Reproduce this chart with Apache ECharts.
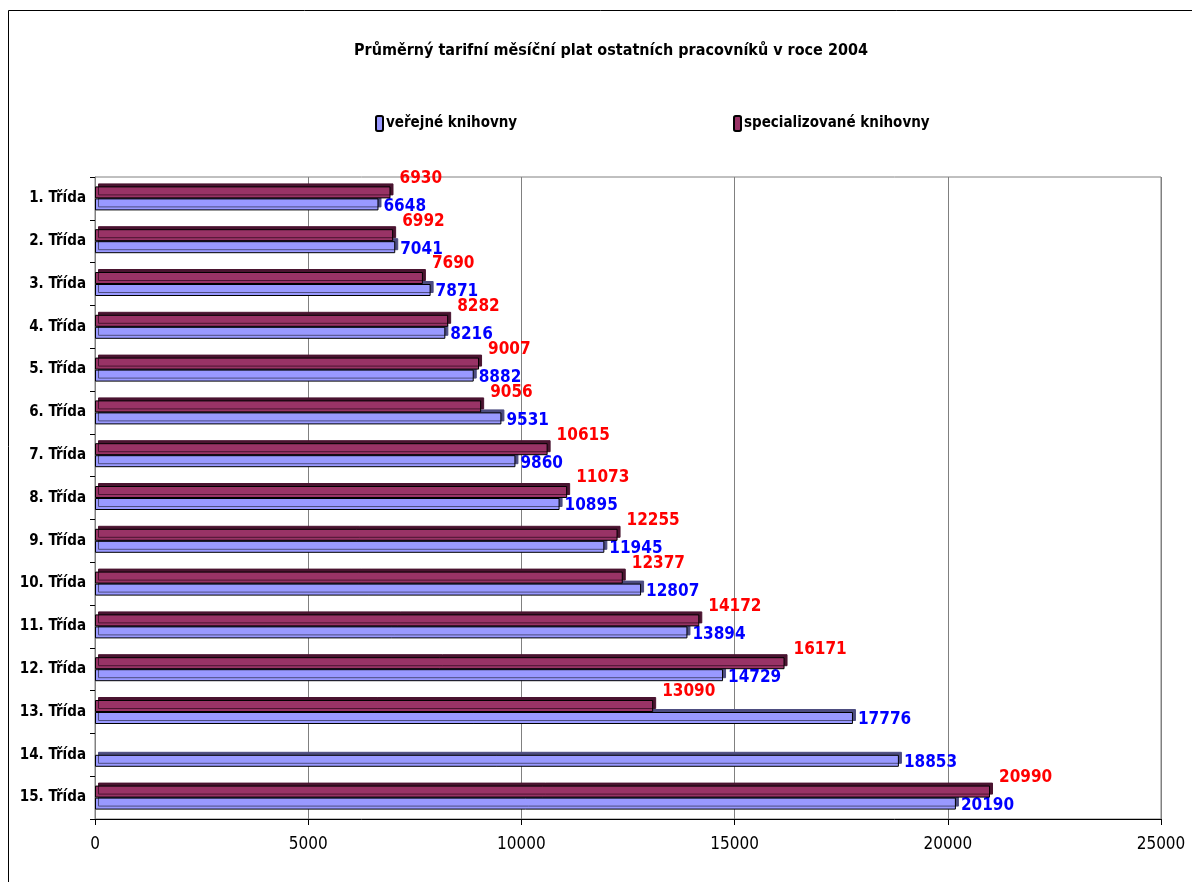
<!DOCTYPE html>
<html><head><meta charset="utf-8">
<script src="https://cdn.jsdelivr.net/npm/echarts@6/dist/echarts.min.js"></script>
<style>html,body{margin:0;padding:0;background:#fff}#c{width:1192px;height:882px}</style>
</head><body><div id="c"></div>
<script>
const categories = ['1. Třída','2. Třída','3. Třída','4. Třída','5. Třída','6. Třída','7. Třída','8. Třída','9. Třída','10. Třída','11. Třída','12. Třída','13. Třída','14. Třída','15. Třída'];
const verejne = [6648,7041,7871,8216,8882,9531,9860,10895,11945,12807,13894,14729,17776,18853,20190];
const specializovane = [6930,6992,7690,8282,9007,9056,10615,11073,12255,12377,14172,16171,13090,null,20990];
const xTicks = {min:0, max:25000, interval:5000};
const F = "'DejaVu Sans Condensed','Liberation Sans Narrow',sans-serif";

const chart = echarts.init(document.getElementById('c'));
chart.setOption({
  animation:false,
  textStyle:{fontFamily:F},
  title:{text:'Průměrný tarifní měsíční plat ostatních pracovníků v roce 2004', left:606, textAlign:'center', top:38,
    textStyle:{fontFamily:F, fontSize:16, fontWeight:'bold', color:'#000'}},
  legend:[
    {data:['veřejné knihovny'], left:370, top:110, itemWidth:7, itemHeight:15, itemGap:0,
     textStyle:{fontFamily:F, fontSize:15, fontWeight:'bold', color:'#000', padding:[0,0,0,-2]}},
    {data:['specializované knihovny'], left:728, top:110, itemWidth:7, itemHeight:15, itemGap:0,
     textStyle:{fontFamily:F, fontSize:15, fontWeight:'bold', color:'#000', padding:[0,0,0,-2]}}
  ],
  graphic:[{type:'rect', shape:{x:8.5,y:10.5,width:1300,height:1000}, style:{fill:'none', stroke:'#000', lineWidth:1}, silent:true}],
  grid:{left:95, right:31, top:177, bottom:63, show:true, borderColor:'#808080', borderWidth:1, backgroundColor:'transparent'},
  xAxis:{type:'value', min:xTicks.min, max:xTicks.max, interval:xTicks.interval,
    axisLine:{show:true, lineStyle:{color:'#000'}}, axisTick:{show:true, length:6, lineStyle:{color:'#000'}},
    splitLine:{show:true, lineStyle:{color:'#808080', width:1}},
    axisLabel:{fontFamily:F, fontSize:17, color:'#000', margin:17, formatter:v=>String(v)}},
  yAxis:{type:'category', data:categories, inverse:true,
    axisLine:{show:true, lineStyle:{color:'#808080', width:1}},
    axisTick:{show:true, length:5, lineStyle:{color:'#000'}},
    axisLabel:{fontFamily:F, fontSize:15, fontWeight:'bold', color:'#000', margin:9}},
  series:[
    {name:'specializované knihovny', type:'bar', data:specializovane, barWidth:12, barGap:'0%', z:3,
     itemStyle:{color:'#993366', borderColor:'#000', borderWidth:1, shadowColor:'#4a1430', shadowBlur:0, shadowOffsetX:3, shadowOffsetY:-3},
     label:{show:true, position:'right', distance:9, offset:[0,-14], color:'#FF0000', fontFamily:F, fontSize:17, fontWeight:'bold'}},
    {name:'veřejné knihovny', type:'bar', data:verejne, barWidth:12, z:2,
     itemStyle:{color:'#9999FF', borderColor:'#000', borderWidth:1, shadowColor:'#4d4d80', shadowBlur:0, shadowOffsetX:3, shadowOffsetY:-3},
     label:{show:true, position:'right', distance:5, offset:[0,2], color:'#0000FF', fontFamily:F, fontSize:17, fontWeight:'bold'}}
  ]
});
</script></body></html>
